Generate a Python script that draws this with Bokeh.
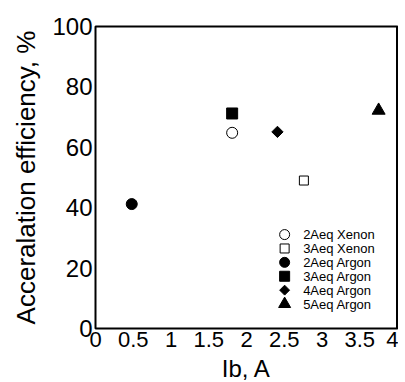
import math
from bokeh.plotting import figure
from bokeh.models import Range1d, FixedTicker, Span
from bokeh.core.properties import value
from bokeh.embed import file_html
from bokeh.resources import INLINE

# ---- data ----
series_names = ["2Aeq Xenon", "3Aeq Xenon", "2Aeq Argon", "3Aeq Argon", "4Aeq Argon", "5Aeq Argon"]
ib_values = [1.81, 2.76, 0.48, 1.81, 2.41, 3.75]
efficiency_values = [64.8, 49.0, 41.2, 71.2, 65.1, 72.2]
x_ticks = [0, 0.5, 1, 1.5, 2, 2.5, 3, 3.5, 4]
x_tick_labels = ["0", "0.5", "1", "1.5", "2", "2.5", "3", "3.5", "4"]
y_ticks = [0, 20, 40, 60, 80, 100]
y_tick_labels = ["0", "20", "40", "60", "80", "100"]

# marker style per series (marker, fill, size, angle)
styles = [
    ("circle", "white", 11, 0.0),
    ("square", "white", 9, 0.0),
    ("circle", "black", 11, 0.0),
    ("square", "black", 11, 0.0),
    ("square", "black", 8, math.pi / 4),
    ("triangle", "black", 13, 0.0),
]
legend_styles = [
    ("circle", "white", 10, 0.0),
    ("square", "white", 9, 0.0),
    ("circle", "black", 10, 0.0),
    ("square", "black", 10, 0.0),
    ("square", "black", 7, math.pi / 4),
    ("triangle", "black", 12, 0.0),
]

# legend placement (data units)
LEG_MARK_X = 2.505
LEG_TEXT_X = 2.75
LEG_TOP_Y = 31.1
LEG_STEP = 4.6

FONT = "Liberation Sans"

p = figure(width=398, height=382, output_backend="svg", toolbar_location=None,
           x_range=Range1d(0, 4), y_range=Range1d(0, 100),
           min_border_left=95, min_border_right=1, min_border_top=26, min_border_bottom=54)
p.frame_width = 302
p.frame_height = 302

p.xgrid.visible = False
p.ygrid.visible = False
p.outline_line_color = "black"
p.outline_line_width = 2
p.background_fill_color = "white"
p.border_fill_color = "white"

for ax in (p.xaxis[0], p.yaxis[0]):
    ax.axis_line_color = None
    ax.major_tick_line_color = None
    ax.minor_tick_line_color = None
    ax.major_tick_out = 0
    ax.major_tick_in = 0
    ax.minor_tick_out = 0
    ax.minor_tick_in = 0
    ax.major_label_text_font = FONT
    ax.major_label_text_color = "black"
    ax.axis_label_text_font = FONT
    ax.axis_label_text_font_style = "normal"
    ax.axis_label_text_color = "black"

p.xaxis.major_label_text_font_size = "22px"
p.yaxis.major_label_text_font_size = "24px"
p.xaxis.axis_label_text_font_size = "24px"
p.yaxis.axis_label_text_font_size = "26px"
p.xaxis.ticker = FixedTicker(ticks=x_ticks)
p.xaxis.major_label_overrides = dict(zip(x_ticks, x_tick_labels))
p.yaxis.ticker = FixedTicker(ticks=y_ticks)
p.yaxis.major_label_overrides = dict(zip(y_ticks, y_tick_labels))
p.xaxis.major_label_standoff = 3
p.yaxis.major_label_standoff = 3
p.xaxis.axis_label_standoff = 5
p.yaxis.axis_label_standoff = 8
p.xaxis.axis_label = "Ib, A"
p.yaxis.axis_label = "Acceralation efficiency, %"

p.add_layout(Span(location=4, dimension="height", line_color="black", line_width=3))

for name, xv, yv, (marker, fill, size, angle) in zip(series_names, ib_values, efficiency_values, styles):
    p.scatter([xv], [yv], marker=marker, size=size, angle=angle,
              fill_color=fill, line_color="black", line_width=1)

# legend drawn manually (compact rows like the original)
for i, (name, (marker, fill, size, angle)) in enumerate(zip(series_names, legend_styles)):
    yy = LEG_TOP_Y - i * LEG_STEP
    p.scatter([LEG_MARK_X], [yy], marker=marker, size=size, angle=angle,
              fill_color=fill, line_color="black", line_width=1)
    p.text([LEG_TEXT_X], [yy], text=[name], text_font=value(FONT), text_font_size="13px",
           text_baseline="middle", text_align="left", text_color="black")

open("out.html", "w").write(file_html(p, INLINE))
